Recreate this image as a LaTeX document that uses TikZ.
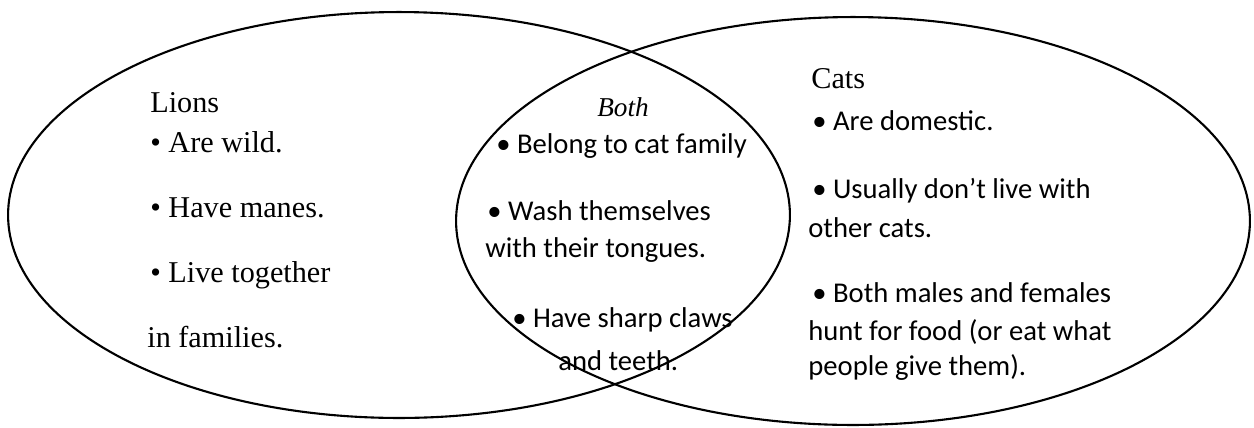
\documentclass[tikz,border=0pt]{standalone}
\usepackage{fontspec}
\usepackage{tikz}
\usetikzlibrary{shapes.geometric, positioning}
\setmainfont{Liberation Serif}
\newfontfamily\calibrifont{Carlito}
\tikzset{
  vennring/.style={ellipse, draw=black, line width=1.2pt, inner sep=0pt},
  serifline/.style={anchor=base west, inner sep=0pt, font=\fontsize{17.2}{20}\selectfont},
  bothhead/.style={anchor=base west, inner sep=0pt, font=\fontsize{15.5}{19}\selectfont\itshape},
  sansline/.style={anchor=base west, inner sep=0pt, font=\calibrifont\fontsize{16.3}{20}\selectfont},
}

\begin{document}
\begin{tikzpicture}[x=0.02cm, y=-0.02cm]
  \useasboundingbox (0,0) rectangle (1254,427);

  % the two sets
  \node[vennring, minimum width=15.64cm, minimum height=8.12cm] (lions) at (399,215) {};
  \node[vennring, minimum width=15.88cm, minimum height=8.16cm] (cats) at (853,221) {};

  % lions only
  \node[serifline] (lionsHead) at (150,112) {Lions};
  \node[serifline] (lionsWild) at (150,152) {• Are wild.};
  \node[serifline] (lionsManes) at (150,217) {• Have manes.};
  \node[serifline] (lionsTogether) at (150,282) {• Live together};
  \node[serifline] (lionsFamilies) at (147,347) {in families.};

  % overlap
  \node[bothhead] (bothHead) at (597,116) {Both};
  \node[sansline] (bothFamily) at (496,153) {• Belong to cat family};
  \node[sansline] (bothWash) at (487,220) {• Wash themselves};
  \node[sansline] (bothTongues) at (485,257) {with their tongues.};
  \node[sansline] (bothClaws) at (512,327) {• Have sharp claws};
  \node[sansline] (bothTeeth) at (558,370) {and teeth.};

  % cats only
  \node[serifline] (catsHead) at (811,88) {Cats};
  \node[sansline] (catsDomestic) at (812,130) {• Are domestic.};
  \node[sansline] (catsAlone) at (812,198) {• Usually don’t live with};
  \node[sansline] (catsOthers) at (808,237) {other cats.};
  \node[sansline] (catsHunt) at (812,302) {• Both males and females};
  \node[sansline] (catsFood) at (808,340) {hunt for food (or eat what};
  \node[sansline] (catsGiven) at (808,375) {people give them).};
\end{tikzpicture}
\end{document}
